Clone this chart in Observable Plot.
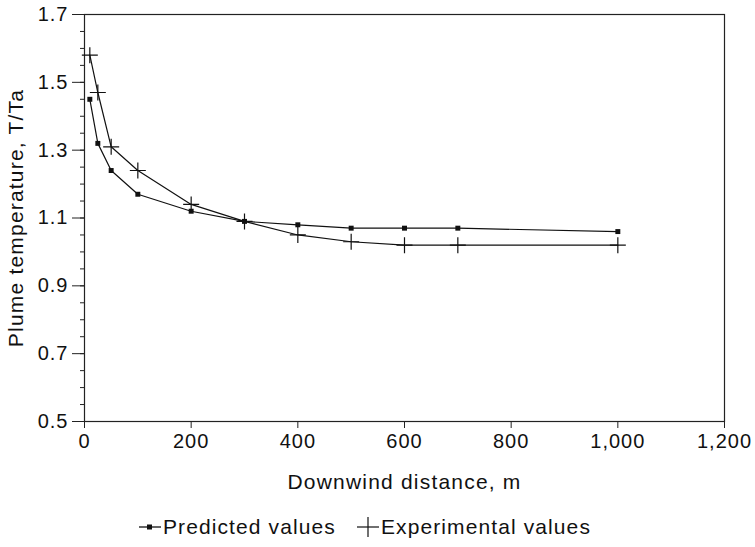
<!DOCTYPE html>
<html>
<head>
<meta charset="utf-8">
<script src="https://cdn.jsdelivr.net/npm/d3@7"></script>
<script src="https://cdn.jsdelivr.net/npm/@observablehq/plot@0.6"></script>
<style>
  body { margin: 0; background: #fff; font-family: "Liberation Sans", Arial, sans-serif; }
  #chart svg { display: block; }
  #chart g[aria-label="y-axis tick label"] text,
  #chart g[aria-label="x-axis tick label"] text { letter-spacing: 1px; }
  #chart g[aria-label="y-axis label"] text,
  #chart g[aria-label="x-axis label"] text { font-size: 21px; letter-spacing: 1.2px; }
  #legend { position: relative; height: 47px; font-size: 21px; letter-spacing: 1.1px; color: #111; }
  #legend .item { position: absolute; top: 15px; display: flex; align-items: center; white-space: nowrap; }
</style>
</head>
<body>
<div id="chart"></div>
<div id="legend">
  <div class="item" style="left:137px">
    <svg width="26" height="20"><line x1="2" y1="10" x2="24" y2="10" stroke="#111" stroke-width="1.3"/><rect x="10" y="7.5" width="5" height="5" fill="#111"/></svg>
    <span>Predicted values</span>
  </div>
  <div class="item" style="left:355px">
    <svg width="26" height="22"><line x1="2" y1="11" x2="24" y2="11" stroke="#111" stroke-width="1.2"/><line x1="13" y1="1" x2="13" y2="21" stroke="#111" stroke-width="1.2"/></svg>
    <span>Experimental values</span>
  </div>
</div>
<script>
const distance = [10, 25, 50, 100, 200, 300, 400, 500, 600, 700, 1000];
const predicted = [1.45, 1.32, 1.24, 1.17, 1.12, 1.09, 1.08, 1.07, 1.07, 1.07, 1.06];
const experimental = [1.58, 1.47, 1.31, 1.24, 1.14, 1.09, 1.05, 1.03, 1.02, 1.02, 1.02];
const xTicks = [0, 200, 400, 600, 800, 1000, 1200];
const yTicks = [0.5, 0.7, 0.9, 1.1, 1.3, 1.5, 1.7];
const yMinorTicks = d3.range(0, 25).map(i => 0.5 + i * 0.05);

const predData = distance.map((d, i) => ({x: d, y: predicted[i]}));
const expData = distance.map((d, i) => ({x: d, y: experimental[i]}));

const crossSymbol = {
  draw(ctx, size) {
    const s = 8;
    ctx.moveTo(-s, 0); ctx.lineTo(s, 0);
    ctx.moveTo(0, -s); ctx.lineTo(0, s);
  }
};

const chart = Plot.plot({
  width: 755,
  height: 500,
  marginTop: 14,
  marginBottom: 79,
  marginLeft: 84,
  marginRight: 31,
  style: {fontFamily: "'Liberation Sans', Arial, sans-serif", fontSize: "20px", color: "#111", background: "#fff"},
  x: {domain: [0, 1200]},
  y: {domain: [0.5, 1.7]},
  marks: [
    Plot.frame({stroke: "#222", strokeWidth: 1.2}),
    Plot.axisY({ticks: yMinorTicks, tickSize: 4, tickFormat: () => "", label: null, stroke: "#222"}),
    Plot.axisY({ticks: yTicks, tickSize: 12, tickPadding: 4, tickFormat: d => d.toFixed(1),
      label: "Plume temperature, T/Ta", labelAnchor: "center", labelArrow: "none", labelOffset: 76,
      fontSize: 20, stroke: "#222"}),
    Plot.axisX({ticks: xTicks, tickSize: 7, tickPadding: 5, tickFormat: d3.format(","),
      label: "Downwind distance, m", labelAnchor: "center", labelArrow: "none", labelOffset: 67,
      fontSize: 20, stroke: "#222"}),
    Plot.line(predData, {x: "x", y: "y", stroke: "#111", strokeWidth: 1.2}),
    Plot.dot(predData, {x: "x", y: "y", symbol: "square", r: 2.8, fill: "#111", stroke: "none"}),
    Plot.line(expData, {x: "x", y: "y", stroke: "#111", strokeWidth: 1.2}),
    Plot.dot(expData, {x: "x", y: "y", symbol: crossSymbol, r: 5, stroke: "#111", strokeWidth: 1.2, fill: "none"})
  ]
});
document.getElementById("chart").appendChild(chart);
</script>
</body>
</html>
